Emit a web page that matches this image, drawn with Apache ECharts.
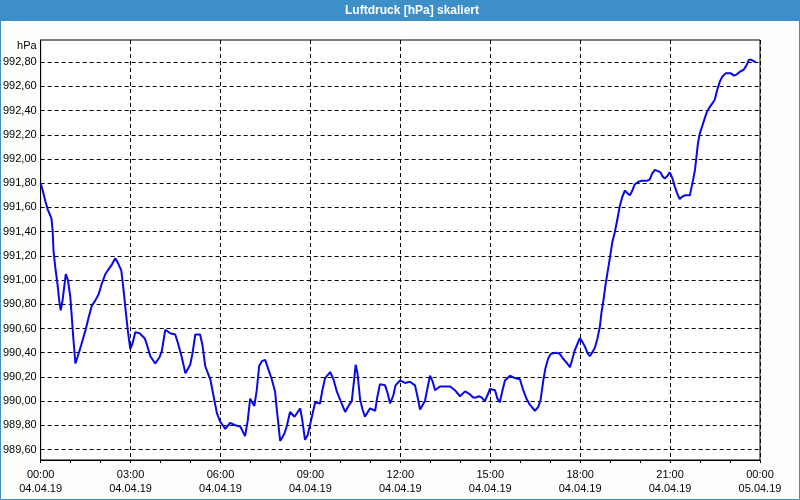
<!DOCTYPE html>
<html>
<head>
<meta charset="utf-8">
<script src="https://cdn.jsdelivr.net/npm/echarts@6/dist/echarts.min.js"></script>
<style>
html,body{margin:0;padding:0;background:#fcfefc;}
#chart{width:800px;height:500px;}
</style>
</head>
<body>
<div id="chart"></div>
<script>
// Time of measurement in hours since 04.04.19 00:00
var hours = [
0.00,0.07,0.16,0.24,0.36,0.40,0.43,0.49,0.56,0.62,0.67,0.73,0.80,0.84,0.91,0.99,
1.04,1.10,1.16,1.24,1.36,1.49,1.60,1.71,1.82,1.93,2.04,2.16,2.27,2.38,2.49,2.60,
2.69,2.77,2.84,2.91,2.99,3.07,3.16,3.30,3.47,3.54,3.66,3.82,3.96,4.04,4.16,4.32,
4.49,4.58,4.71,4.83,4.99,5.07,5.16,5.32,5.40,5.49,5.58,5.66,5.77,5.88,5.99,6.16,
6.32,6.49,6.66,6.82,6.91,6.99,7.13,7.21,7.29,7.38,7.49,7.60,7.71,7.82,7.88,7.99,
8.13,8.21,8.32,8.47,8.66,8.73,8.82,8.91,9.02,9.16,9.32,9.40,9.49,9.66,9.77,9.88,
10.01,10.16,10.27,10.38,10.46,10.51,10.57,10.66,10.74,10.82,10.99,11.16,11.23,11.32,11.49,11.57,
11.66,11.77,11.84,11.99,12.16,12.32,12.49,12.57,12.66,12.82,12.90,12.99,13.08,13.16,13.32,13.49,
13.66,13.82,13.99,14.16,14.30,14.43,14.54,14.62,14.71,14.82,14.91,14.99,15.16,15.24,15.32,15.40,
15.49,15.66,15.82,15.99,16.10,16.21,16.32,16.49,16.60,16.68,16.77,16.84,16.93,17.02,17.18,17.32,
17.43,17.54,17.66,17.73,17.82,17.99,18.07,18.16,18.24,18.32,18.40,18.49,18.58,18.66,18.71,18.77,
18.84,18.91,18.99,19.07,19.16,19.24,19.32,19.41,19.49,19.57,19.66,19.74,19.82,19.93,20.04,20.21,
20.32,20.40,20.49,20.60,20.68,20.74,20.82,20.91,20.99,21.08,21.16,21.23,21.32,21.41,21.49,21.58,
21.66,21.71,21.77,21.83,21.88,21.93,21.99,22.07,22.16,22.23,22.32,22.41,22.49,22.57,22.66,22.74,
22.86,23.02,23.13,23.23,23.32,23.46,23.54,23.63,23.71,23.79,23.86
];
// Air pressure in hPa
var pressure = [
991.80,991.74,991.65,991.58,991.51,991.41,991.24,991.10,990.97,990.83,990.75,990.83,990.97,991.05,991.00,990.86,
990.69,990.49,990.31,990.37,990.47,990.58,990.69,990.79,990.83,990.88,990.97,991.05,991.09,991.13,991.18,991.13,
991.08,990.91,990.74,990.58,990.43,990.48,990.57,990.56,990.52,990.47,990.37,990.31,990.36,990.41,990.59,990.56,
990.55,990.48,990.36,990.23,990.30,990.40,990.55,990.55,990.46,990.29,990.23,990.18,990.04,989.90,989.83,989.77,
989.82,989.80,989.79,989.71,989.84,990.02,989.96,990.09,990.29,990.33,990.34,990.26,990.18,990.08,989.93,989.67,
989.73,989.79,989.91,989.87,989.94,989.84,989.68,989.72,989.84,989.99,989.98,990.09,990.19,990.24,990.18,990.08,
990.00,989.91,989.96,990.00,990.18,990.30,990.23,990.01,989.93,989.87,989.94,989.92,990.03,990.14,990.13,990.07,
989.98,990.05,990.13,990.17,990.15,990.16,990.13,990.04,989.93,990.00,990.10,990.21,990.16,990.09,990.12,990.12,
990.12,990.09,990.04,990.08,990.06,990.03,990.03,990.04,990.03,990.00,990.05,990.10,990.09,990.02,989.99,990.08,
990.17,990.21,990.19,990.18,990.09,990.02,989.97,989.92,989.95,990.01,990.17,990.27,990.35,990.39,990.40,990.39,
990.35,990.32,990.28,990.34,990.42,990.52,990.49,990.45,990.40,990.37,990.40,990.44,990.52,990.62,990.73,990.82,
990.95,991.06,991.18,991.31,991.40,991.50,991.61,991.69,991.74,991.72,991.70,991.74,991.79,991.81,991.82,991.82,
991.83,991.88,991.91,991.90,991.89,991.86,991.84,991.86,991.89,991.84,991.77,991.72,991.67,991.69,991.70,991.70,
991.70,991.76,991.83,991.91,992.02,992.13,992.21,992.27,992.34,992.39,992.43,992.46,992.49,992.57,992.64,992.68,
992.71,992.71,992.69,992.70,992.72,992.74,992.77,992.82,992.82,992.81,992.80
];
// Tick labels
var timeLabels = ['00:00','03:00','06:00','09:00','12:00','15:00','18:00','21:00','00:00'];
var dateLabels = ['04.04.19','04.04.19','04.04.19','04.04.19','04.04.19','04.04.19','04.04.19','04.04.19','05.04.19'];
var yTicks = [989.6,989.8,990.0,990.2,990.4,990.6,990.8,991.0,991.2,991.4,991.6,991.8,992.0,992.2,992.4,992.6,992.8];
var titleText = 'Luftdruck [hPa] skaliert';
var unitText = 'hPa';

var seriesData = hours.map(function (h, i) { return [h, pressure[i]]; });
var FONT = 'Liberation Sans';
var BLUE = '#3d8fc8';

var chart = echarts.init(document.getElementById('chart'), null, {renderer: 'canvas'});
chart.setOption({
  animation: false,
  backgroundColor: '#fcfefc',
  graphic: [
    {type: 'rect', z: 0, silent: true, shape: {x: 0, y: 0, width: 800, height: 21}, style: {fill: BLUE}},
    {type: 'rect', z: 0, silent: true, shape: {x: 0.5, y: 0.5, width: 799, height: 499}, style: {fill: null, stroke: BLUE, lineWidth: 1}}
  ],
  title: {
    text: titleText,
    left: 345,
    top: 3,
    padding: 0,
    textStyle: {color: '#ffffff', fontSize: 12, fontWeight: 'bold', fontFamily: FONT, lineHeight: 15}
  },
  grid: {
    left: 40, right: 40, top: 40, bottom: 40,
    show: true, borderColor: '#000', borderWidth: 1, backgroundColor: '#ffffff'
  },
  xAxis: {
    type: 'value',
    min: 0, max: 24, interval: 3,
    axisLine: {show: true, lineStyle: {color: '#000', width: 1}},
    axisTick: {show: true, length: 3, lineStyle: {color: '#000'}},
    minorTick: {show: true, splitNumber: 3, length: 3, lineStyle: {color: '#000'}},
    splitLine: {show: true, lineStyle: {color: '#000', type: [4, 3], width: 1}},
    axisLabel: {
      margin: 8,
      color: '#000',
      fontSize: 11,
      fontFamily: FONT,
      lineHeight: 14,
      formatter: function (v) {
        var i = Math.round(v / 3);
        return timeLabels[i] + '\n' + dateLabels[i];
      }
    }
  },
  yAxis: {
    type: 'value',
    min: 989.513, max: 992.984,
    name: unitText,
    nameLocation: 'end',
    nameGap: -6,
    nameTextStyle: {align: 'right', verticalAlign: 'middle', padding: [0, 4, 0, 0], color: '#000', fontSize: 11, fontFamily: FONT},
    axisLine: {show: true, lineStyle: {color: '#000', width: 1}},
    axisTick: {show: false, customValues: yTicks},
    splitLine: {show: true, lineStyle: {color: '#000', type: [4, 3], width: 1}},
    axisLabel: {
      customValues: yTicks,
      margin: 4,
      color: '#000',
      fontSize: 11,
      fontFamily: FONT,
      formatter: function (v) { return v.toFixed(2).replace('.', ','); }
    }
  },
  series: [{
    type: 'line',
    data: seriesData,
    showSymbol: false,
    symbol: 'none',
    lineStyle: {color: '#0808e8', width: 2},
    z: 3
  }]
});
</script>
</body>
</html>
